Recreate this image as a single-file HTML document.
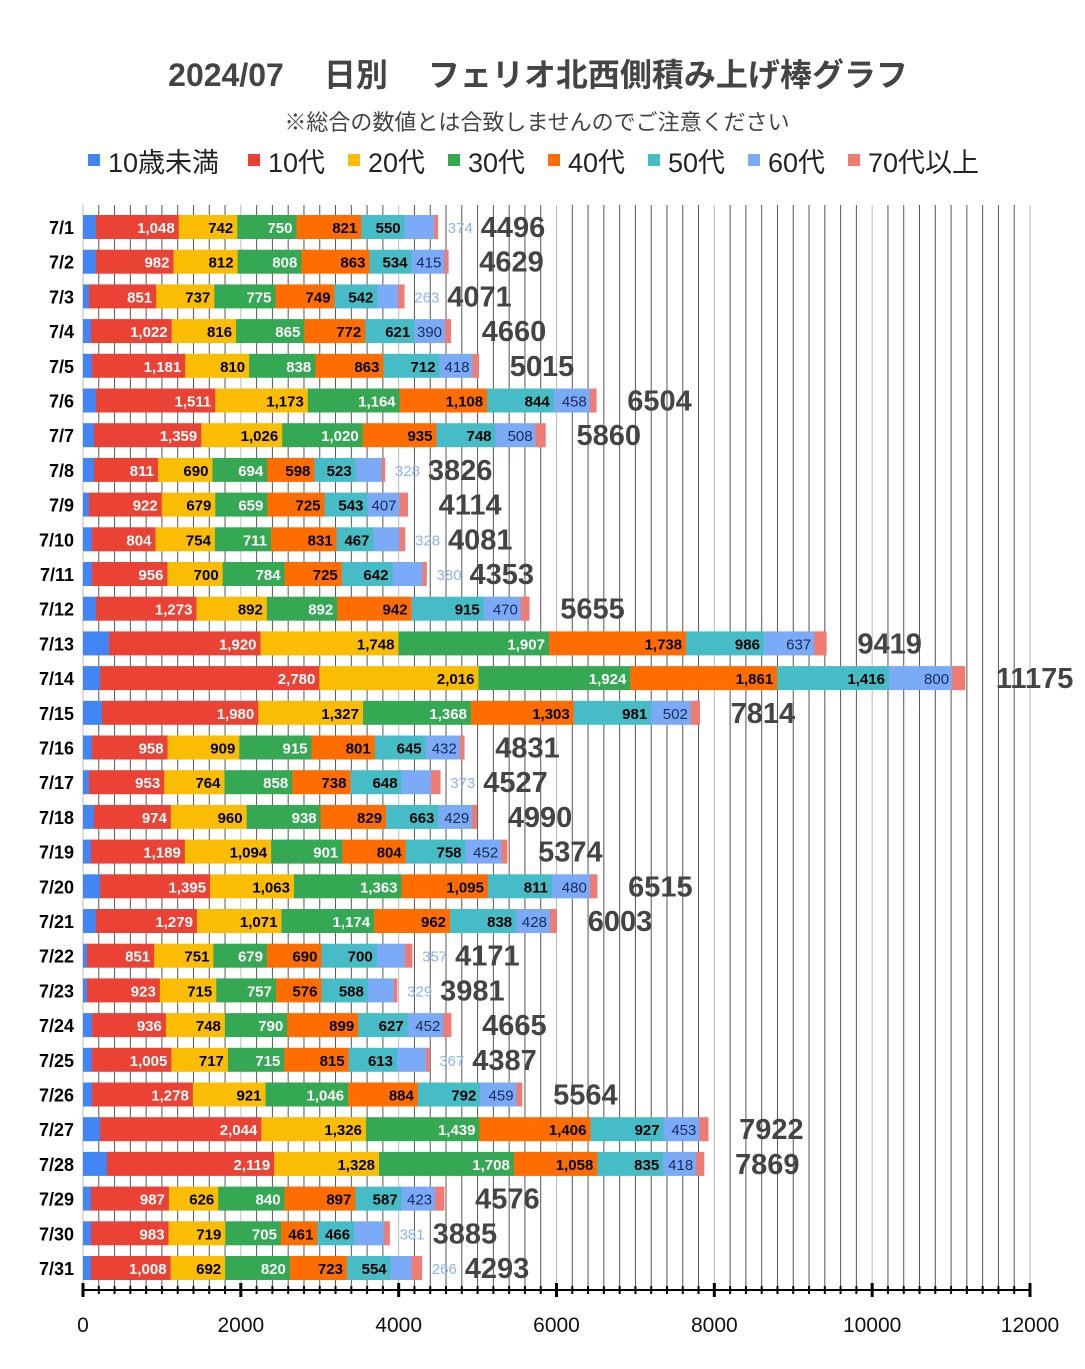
<!DOCTYPE html>
<html><head><meta charset="utf-8"><style>
body{margin:0;background:#fff;}
svg text{font-family:"Liberation Sans","Noto Sans CJK JP",sans-serif;}
</style></head><body>
<svg id="s" width="1085" height="1364" xmlns="http://www.w3.org/2000/svg"></svg>
<script>
const D=[
[96,1048,742,750,821,550,374,4496],
[96,982,812,808,863,534,415,4629],
[89,851,737,775,749,542,263,4071],
[91,1022,816,865,772,621,390,4660],
[92,1181,810,838,863,712,418,5015],
[96,1511,1173,1164,1108,844,458,6504],
[94,1359,1026,1020,935,748,508,5860],
[94,811,690,694,598,523,328,3826],
[89,922,679,659,725,543,407,4114],
[92,804,754,711,831,467,328,4081],
[92,956,700,784,725,642,380,4353],
[96,1273,892,892,942,915,470,5655],
[109,1920,1748,1907,1738,986,637,9419],
[100,2780,2016,1924,1861,1416,800,11175],
[102,1980,1327,1368,1303,981,502,7814],
[92,958,909,915,801,645,432,4831],
[89,953,764,858,738,648,373,4527],
[94,974,960,938,829,663,429,4990],
[91,1189,1094,901,804,758,452,5374],
[100,1395,1063,1363,1095,811,480,6515],
[96,1279,1071,1174,962,838,428,6003],
[87,851,751,679,690,700,357,4171],
[87,923,715,757,576,588,329,3981],
[92,936,748,790,899,627,452,4665],
[92,1005,717,715,815,613,367,4387],
[92,1278,921,1046,884,792,459,5564],
[100,2044,1326,1439,1406,927,453,7922],
[107,2119,1328,1708,1058,835,418,7869],
[91,987,626,840,897,587,423,4576],
[91,983,719,705,461,466,381,3885],
[91,1008,692,820,723,554,266,4293]];
const C=["#4285f4","#ea4335","#fbbc04","#34a853","#ff6d01","#46bdc6","#7baaf7","#f07b72"];
const X0=83,K=947/12000;
let h='';
h+='<text x="538" y="86" text-anchor="middle" font-size="32" font-weight="bold" fill="#444">2024/07<tspan dx="40">日別</tspan><tspan dx="40">フェリオ北西側積み上げ棒グラフ</tspan></text>';
h+='<text x="537" y="130" text-anchor="middle" font-size="22" fill="#444">※総合の数値とは合致しませんのでご注意ください</text>';
const L=["10歳未満","10代","20代","30代","40代","50代","60代","70代以上"];
const LX=[88,248,348,448,548,648,748,848];
for(let i=0;i<8;i++){h+=`<rect x="${LX[i]}" y="154" width="12" height="12" fill="${C[i]}"/><text x="${LX[i]+20}" y="172" font-size="27" fill="#222">${L[i]}</text>`;}
for(let v=0;v<=12000;v+=200){const x=X0+v*K;const maj=v%2000==0;
h+=`<line x1="${x}" y1="205" x2="${x}" y2="1290" stroke="${maj?'#bbb':'#555'}" stroke-width="1"/>`;
h+=`<line x1="${x}" y1="${maj?1283:1286}" x2="${x}" y2="${maj?1297:1294}" stroke="#000" stroke-width="${maj?3:2}"/>`;
if(maj)h+=`<text x="${x}" y="1332" text-anchor="middle" font-size="21" fill="#111">${v}</text>`;}
h+=`<line x1="${X0}" y1="1290" x2="${X0+12000*K}" y2="1290" stroke="#000" stroke-width="2"/>`;
const fmt=n=>n.toLocaleString('en-US');
D.forEach((d,i)=>{
 const yc=227+i*34.7,y=yc-12;
 const u10=(d[0]-83)/K;
 let sum=u10;for(let j=1;j<7;j++)sum+=d[j];
 let o70=Math.max(d[7]-sum,20);
 const vals=[u10,d[1],d[2],d[3],d[4],d[5],d[6],o70];
 let x=X0;let outside=false;
 h+=`<text x="74" y="${yc+7}" text-anchor="end" font-size="18" font-weight="bold" fill="#000">7/${i+1}</text>`;
 vals.forEach((v,j)=>{const w=v*K;
  h+=`<rect x="${x}" y="${y}" width="${w+0.3}" height="24" fill="${C[j]}"/>`;
  if(j>=1&&j<=5){h+=`<text x="${x+w-4}" y="${yc+6}" text-anchor="end" font-size="15" font-weight="bold" fill="${(j==1||j==3)?'#fff':'#000'}">${fmt(v)}</text>`;}
  if(j==6){if(v>=390)h+=`<text x="${x+w-3}" y="${yc+6}" text-anchor="end" font-size="15" fill="#1a2a5a">${v}</text>`;else outside=true;}
  x+=w;});
 if(outside)h+=`<text x="${x+10}" y="${yc+6}" font-size="15" fill="#8ab4f8">${d[6]}</text>`;
 h+=`<text x="${x+(outside?43:31)}" y="${yc+10}" font-size="29" font-weight="bold" fill="#444">${d[7]}</text>`;
});
document.getElementById('s').innerHTML=h;
</script>
</body></html>
